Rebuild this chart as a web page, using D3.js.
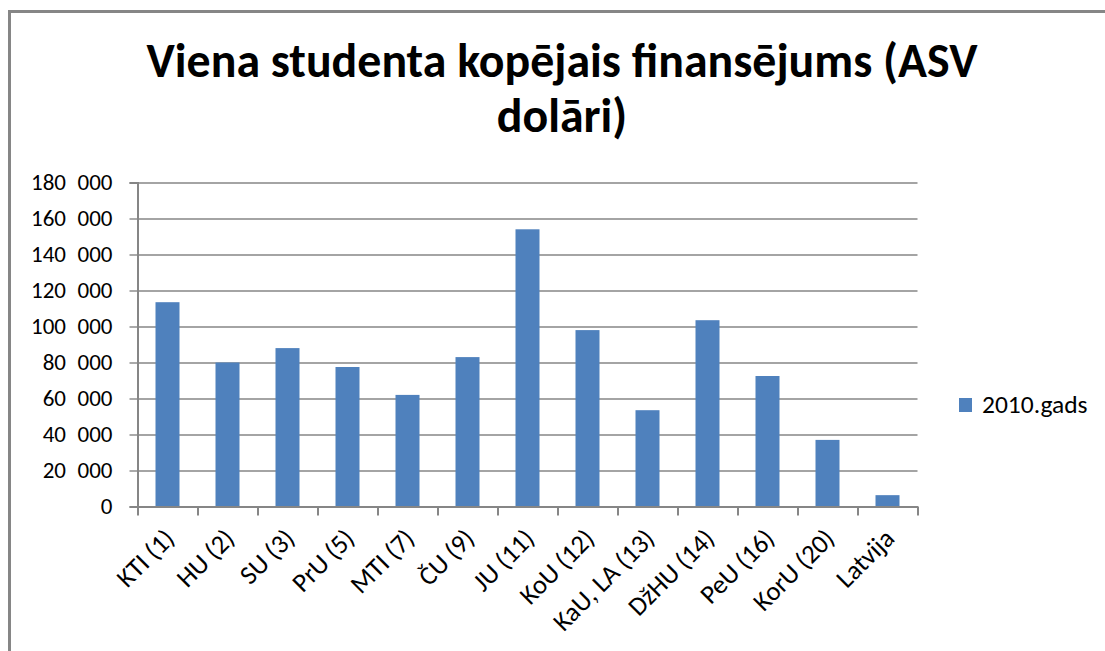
<!DOCTYPE html>
<html>
<head>
<meta charset="utf-8">
<script src="https://cdn.jsdelivr.net/npm/d3@7"></script>
<style>
  body { margin: 0; background: #fff; }
  svg { display: block; }
  text { font-family: Carlito, Lato, "Open Sans", sans-serif; fill: #000; }
</style>
</head>
<body>
<svg id="chart" width="1105" height="651"></svg>
<script>
var categories = ['KTI (1)', 'HU (2)', 'SU (3)', 'PrU (5)', 'MTI (7)', 'ČU (9)', 'JU (11)',
  'KoU (12)', 'KaU, LA (13)', 'DžHU (14)', 'PeU (16)', 'KorU (20)', 'Latvija'];
var values2010 = [113500, 80000, 88000, 77500, 62000, 83000, 154000,
  98000, 53500, 103500, 72500, 37000, 6300];
var yTicks = [0, 20000, 40000, 60000, 80000, 100000, 120000, 140000, 160000, 180000];
var seriesName = '2010.gads';
var titleLines = ['Viena studenta kopējais finansējums (ASV', 'dolāri)'];

var
  svg = d3.select('#chart'),
  margin = {top: 182.5, left: 137.5},
  width = 780,
  height = 324,
  grey = '#868686',
  blue = '#4F81BD'
  ;

// chart frame (runs off the right and bottom edge like the original)
svg.append('rect')
  .attr('x', 9.5).attr('y', 11.5)
  .attr('width', 1200).attr('height', 800)
  .attr('fill', 'none')
  .attr('stroke', grey)
  .attr('stroke-width', 3);

// title, sized so the first line spans the same width as the original
var title = svg.append('g').attr('class', 'title');
var t1 = title.append('text')
  .attr('x', 562).attr('y', 77)
  .attr('text-anchor', 'middle')
  .attr('font-weight', 700)
  .attr('font-size', 44)
  .text(titleLines[0]);
var fs = 44 * 831 / t1.node().getComputedTextLength();
t1.attr('font-size', fs);
title.append('text')
  .attr('x', 562).attr('y', 132)
  .attr('text-anchor', 'middle')
  .attr('font-weight', 700)
  .attr('font-size', fs)
  .text(titleLines[1]);

var
  g = svg.append('g').attr('transform', 'translate(' + margin.left + ',' + margin.top + ')'),
  xScale = d3.scaleBand().domain(categories).range([0, width]).paddingInner(0.6).paddingOuter(0.3),
  xTicks = d3.scaleLinear().domain([0, categories.length]).range([0, width]),
  yScale = d3.scaleLinear().domain([0, 180000]).range([height, 0]),
  fmt = d3.format(',')
  ;

// gridlines
g.append('g')
  .attr('class', 'grid')
  .call(d3.axisLeft(yScale).tickValues(yTicks.slice(1)).tickSize(-width).tickFormat(''))
  .call(s => s.select('.domain').remove())
  .selectAll('line')
  .attr('stroke', grey)
  .attr('stroke-width', 1.4);

// bars
g.selectAll('.bar')
  .data(values2010)
  .enter()
  .append('rect')
  .attr('class', 'bar')
  .attr('x', (d, i) => xScale(categories[i]))
  .attr('width', xScale.bandwidth())
  .attr('y', d => yScale(d))
  .attr('height', d => height - yScale(d))
  .attr('fill', blue);

// y axis
var yAxis = g.append('g')
  .attr('class', 'axis axis--y')
  .call(d3.axisLeft(yScale).tickValues(yTicks).tickSize(8).tickPadding(17)
    .tickFormat(d => fmt(d).replace(/,/g, '\u2002')));
yAxis.select('.domain').attr('stroke', grey).attr('stroke-width', 2);
yAxis.selectAll('line').attr('stroke', grey).attr('stroke-width', 1.4);
yAxis.selectAll('text').attr('font-size', 23).attr('font-family', 'Carlito, Lato, "Open Sans", sans-serif').attr('fill', '#000');

// x axis with ticks between categories
var xAxis = g.append('g')
  .attr('class', 'axis axis--x')
  .attr('transform', 'translate(0,' + height + ')')
  .call(d3.axisBottom(xTicks).tickValues(d3.range(categories.length + 1)).tickSize(9).tickSizeOuter(0).tickFormat(''));
xAxis.select('.domain').attr('stroke', grey).attr('stroke-width', 2);
xAxis.selectAll('line').attr('stroke', grey).attr('stroke-width', 2);

// rotated category labels
g.append('g')
  .attr('class', 'xlabels')
  .selectAll('text')
  .data(categories)
  .enter()
  .append('text')
  .attr('transform', d => 'translate(' + (xScale(d) + xScale.bandwidth() / 2 + 2) + ',' + (height + 27) + ') rotate(-45)')
  .attr('text-anchor', 'end')
  .attr('dy', '0.35em')
  .attr('font-size', 26.5)
  .text(d => d);

// legend
var legend = svg.append('g').attr('class', 'legend').attr('transform', 'translate(959,398)');
legend.append('rect')
  .attr('width', 13).attr('height', 14)
  .attr('fill', blue);
legend.append('text')
  .attr('x', 23).attr('y', 14.5)
  .attr('font-size', 25.5)
  .text(seriesName);
</script>
</body>
</html>
